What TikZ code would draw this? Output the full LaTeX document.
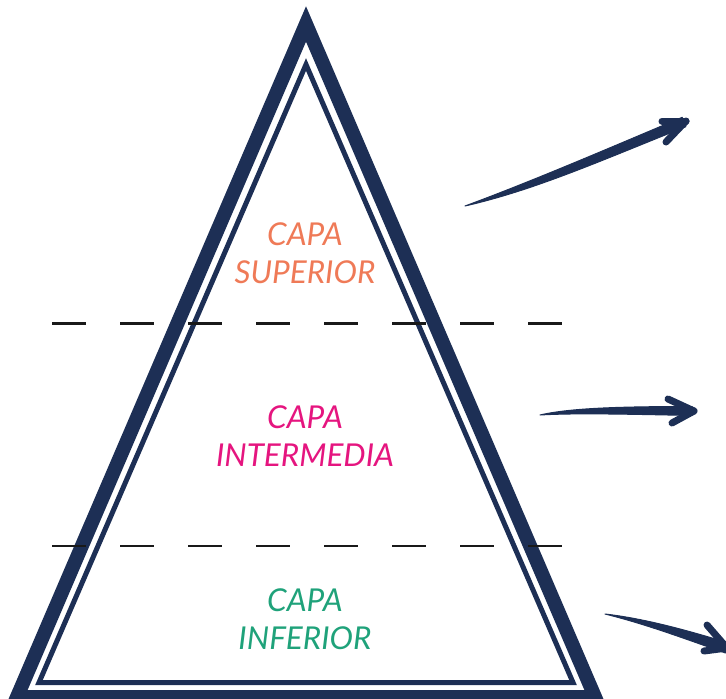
\documentclass[tikz,border=0pt]{standalone}
\usepackage{fontspec}
\setmainfont{Lato}
\definecolor{navy}{HTML}{1D2F55}
\definecolor{capasup}{HTML}{EF7A57}
\definecolor{capaint}{HTML}{E5157F}
\definecolor{capainf}{HTML}{1FA27A}
\tikzset{
  outertri/.style={draw=navy, line width=14pt, line join=miter, miter limit=10},
  innertri/.style={draw=navy, line width=5pt, line join=miter, miter limit=10},
  divider/.style={draw=black!90, line width=2.2pt, dash pattern=on 34pt off 34pt},
  capatext/.style={align=center, font=\itshape\fontsize{31.5}{38}\selectfont, inner sep=0pt},
  shaft/.style={fill=navy, draw=navy, line width=1pt, line join=round},
  barb/.style={draw=navy, line width=7pt, line cap=round}
}
\begin{document}
\begin{tikzpicture}[x=1pt,y=-1pt]
\useasboundingbox (0,0) rectangle (726,699);
\clip (0,0) rectangle (726,699);
% triangles
\draw[outertri] (306,24) -- (595,697) -- (17,697) -- cycle;
\draw[innertri] (306,64.5) -- (573,682.5) -- (39,682.5) -- cycle;
% dividers
\draw[divider] (52,323.5) -- (562,323.5);
\draw[divider] (52,546) -- (562,546);
% texts
\node[capatext, text=capasup] (sup) at (305,253) {CAPA\\SUPERIOR};
\node[capatext, text=capaint] (int) at (305,436.5) {CAPA\\INTERMEDIA};
\node[capatext, text=capainf] (inf) at (305,619.5) {CAPA\\INFERIOR};
% arrow 1
\coordinate (a1s) at (465,206);
\coordinate (a1e) at (686,121);
\fill[shaft] (a1s) .. controls (530,182) and (600,152) .. (682.2,117.3) -- (685.8,126.7) .. controls (600,161) and (535,190) .. (a1s) -- cycle;
\draw[barb] (a1e) -- (662,121);
\draw[barb] (a1e) -- (666,142);
% arrow 2
\coordinate (a2s) at (540,415);
\coordinate (a2e) at (694,411);
\fill[shaft] (a2s) .. controls (570,408) and (620,406.5) .. (692,406.5) -- (692,415.5) .. controls (620,414) and (575,413) .. (a2s) -- cycle;
\draw[barb] (a2e) -- (668,399);
\draw[barb] (a2e) -- (672,423);
% arrow 3
\coordinate (a3s) at (605,614);
\coordinate (a3e) at (727,648);
\fill[shaft] (a3s) .. controls (640,618) and (680,628) .. (728.5,643) -- (725.5,653) .. controls (680,637) and (645,624) .. (a3s) -- cycle;
\draw[barb] (a3e) -- (707,625);
\draw[barb] (a3e) -- (704,651);
\end{tikzpicture}
\end{document}
